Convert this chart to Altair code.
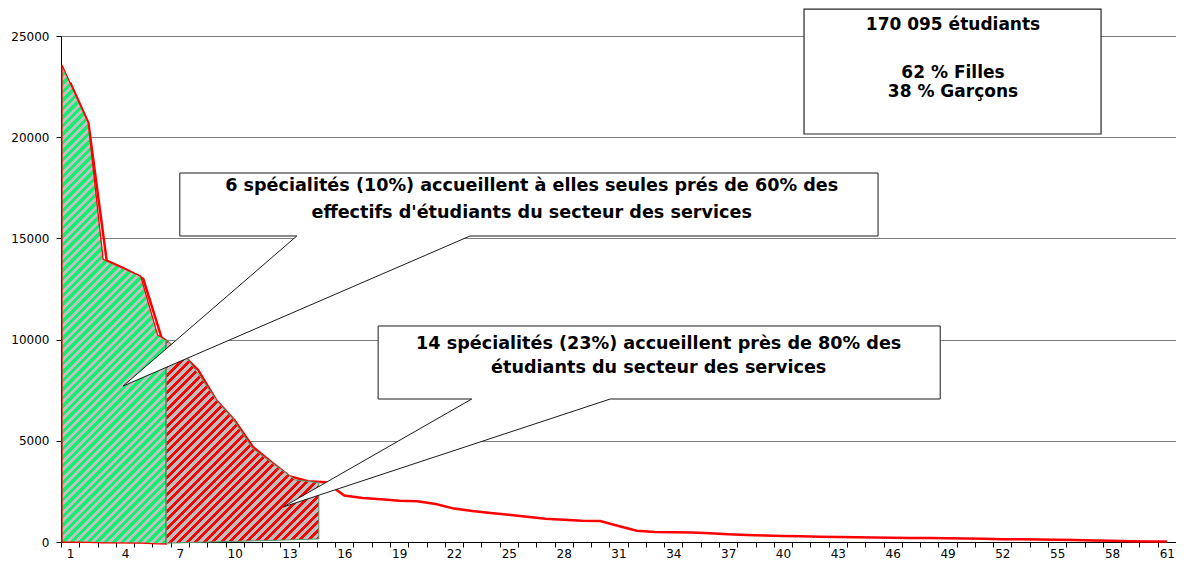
import altair as alt
import numpy as np
import pandas as pd

# ---------------- data ----------------
rang = list(range(1, 62))
effectifs = [22700, 20700, 13900, 13500, 13000, 10100, 9400, 8500, 7000, 6000,
             4700, 3950, 3250, 3000, 2950, 2300, 2170, 2110, 2040, 2010,
             1880, 1650, 1530, 1430, 1350, 1250, 1150, 1100, 1050, 1040,
             790, 560, 500, 480, 470, 430, 380, 345, 320, 300,
             290, 265, 250, 235, 222, 210, 200, 192, 185, 170,
             155, 140, 130, 120, 110, 100, 80, 60, 40, 30, 20]

# hand drawn hatched shapes (x in rank units, values in students)
green_x = [0.554, 1.987, 2.804, 4.857, 5.783, 6.257]
green_top = [23570, 20720, 13970, 13140, 10230, 9980]
green_base = [0, -20, -40, -60, -90, -100]

red_x = [6.257, 7.433, 8.250, 9.068, 9.885, 10.974, 12.063, 13.338, 14.607]
red_top = [9980, 9030, 8000, 6930, 6110, 4630, 3890, 3060, 2930]
red_base = [-60, -30, -10, 10, 30, 55, 80, 115, 150]

# callouts
callout_text_1 = ["6 spécialités (10%) accueillent à elles seules prés de 60% des",
                  "effectifs d'étudiants du secteur des services"]
callout_text_2 = ["14 spécialités (23%) accueillent près de 80% des",
                  "étudiants du secteur des services"]
info_text = ["170 095 étudiants", "62 % Filles", "38 % Garçons"]

box_x1 = [7.0, 17.85]
box_x2 = [45.2, 48.6]
box_top = [18231, 10672]
box_bottom = [15119, 7065]
wedge_left = [13.40, 22.97]
wedge_right = [22.88, 30.55]
wedge_tip_x = [3.9, 12.65]
wedge_tip_y = [7708, 1729]

info_box = [41.15, 57.4, 26329, 20158]   # x1, x2, top, bottom

callout1_text_x = 26.25
callout1_text_y = [17590, 16255]
callout2_text_x = 33.2
callout2_text_y = [9783, 8597]
info_text_x = 49.3
info_text_y = [25543, 23172, 22233]

# ---------------- geometry / style helpers ----------------
W, H = 1115, 506
XMIN, XMAX = 0.5, 61.5
YMAX = 25000
px_x = W / (XMAX - XMIN)
px_y = H / YMAX
FONT = "DejaVu Sans"

xs = alt.Scale(domain=[XMIN, XMAX], nice=False, zero=False)
ys = alt.Scale(domain=[0, YMAX], nice=False, zero=False)

GRAY = "#C0C0C0"


def stripes(color, xs_, tops, bases, period=8.5, frac=0.5):
    w = (max(xs_) - min(xs_)) * px_x
    h = (max(tops) - min(bases)) * px_y
    L = w + h
    k = L / (w * w + h * h)
    stops = []
    n = int(np.ceil(L / period))
    for j in range(n):
        a = min(j * period / L, 1.0)
        b = min((j + frac) * period / L, 1.0)
        c = min((j + 1) * period / L, 1.0)
        stops += [alt.GradientStop(color=color, offset=a),
                  alt.GradientStop(color=color, offset=b),
                  alt.GradientStop(color=GRAY, offset=b),
                  alt.GradientStop(color=GRAY, offset=c)]
    return alt.Gradient(gradient="linear", x1=0, y1=0, x2=k * w, y2=k * h, stops=stops)


# ---------------- axes (shared by every layer) ----------------
boundaries = [i + 0.5 for i in range(0, 62)]
x_axis = alt.Axis(values=boundaries, title=None, grid=False,
                  labelExpr="(datum.value - 0.5) % 3 == 0 ? format(datum.value + 0.5, 'd') : ''",
                  labelOffset=px_x / 2, labelFlush=False, labelOverlap=False,
                  labelFont=FONT, labelFontSize=12, labelColor="black",
                  domainColor="black", tickColor="black", tickSize=5, labelPadding=1)
y_axis = alt.Axis(values=[0, 5000, 10000, 15000, 20000, 25000], title=None, format="d",
                  grid=True, gridColor="#808080", gridWidth=1,
                  labelFont=FONT, labelFontSize=12, labelColor="black",
                  domainColor="black", tickColor="black", tickSize=5, labelPadding=7)


def X(field):
    return alt.X(field, scale=xs, axis=x_axis, title=None)


def Y(field, **kw):
    return alt.Y(field, scale=ys, axis=y_axis, title=None, **kw)


# ---------------- main line ----------------
df_line = pd.DataFrame({"rang": rang, "effectifs": effectifs})
line = alt.Chart(df_line).mark_line(color="#FF0000", strokeWidth=2.5).encode(
    x=X("rang:Q"), y=Y("effectifs:Q"),
)

# ---------------- hatched shapes ----------------
df_green = pd.DataFrame({"x": green_x, "top": green_top, "base": green_base})
df_red = pd.DataFrame({"x": red_x, "top": red_top, "base": red_base})

green_area = alt.Chart(df_green).mark_area(
    fill=stripes("#10F070", green_x, green_top, green_base),
    stroke="#FF0000", strokeWidth=1.3, orient="vertical", opacity=1
).encode(x=X("x:Q"), y=Y("top:Q", stack=None), y2="base:Q")

red_area = alt.Chart(df_red).mark_area(
    fill=stripes("#FF0000", red_x, red_top, red_base),
    stroke="#4E9E6E", strokeWidth=1, orient="vertical", opacity=1
).encode(x=X("x:Q"), y=Y("top:Q", stack=None), y2="base:Q")

# ---------------- callout boxes ----------------
df_boxes = pd.DataFrame({"x1": box_x1, "x2": box_x2, "top": box_top, "bottom": box_bottom})
boxes_fill = alt.Chart(df_boxes).mark_rect(fill="white", strokeWidth=0).encode(
    x=X("x1:Q"), x2="x2:Q", y=Y("top:Q"), y2="bottom:Q",
)

wedge_rows = []
seg_rows = []
for i in range(len(box_x1)):
    tx, ty = wedge_tip_x[i], wedge_tip_y[i]
    ax, bx, by = wedge_left[i], wedge_right[i], box_bottom[i]
    y_on_tb = ty + (by - ty) * (ax - tx) / (bx - tx)
    wedge_rows += [
        {"id": i, "x": tx, "y": ty, "y2": ty},
        {"id": i, "x": ax, "y": by, "y2": y_on_tb},
        {"id": i, "x": bx, "y": by, "y2": by},
    ]
    seg_rows += [
        {"x": box_x1[i], "x2": box_x2[i], "y": box_top[i], "y2": box_top[i]},
        {"x": box_x1[i], "x2": box_x1[i], "y": box_top[i], "y2": box_bottom[i]},
        {"x": box_x2[i], "x2": box_x2[i], "y": box_top[i], "y2": box_bottom[i]},
        {"x": box_x1[i], "x2": ax, "y": by, "y2": by},
        {"x": bx, "x2": box_x2[i], "y": by, "y2": by},
        {"x": tx, "x2": ax, "y": ty, "y2": by},
        {"x": tx, "x2": bx, "y": ty, "y2": by},
    ]
df_wedge = pd.DataFrame(wedge_rows)
df_seg = pd.DataFrame(seg_rows)

wedges = alt.Chart(df_wedge).mark_area(fill="white", orient="vertical", opacity=1).encode(
    x=X("x:Q"), y=Y("y:Q", stack=None), y2="y2:Q", detail="id:N",
)

segments = alt.Chart(df_seg).mark_rule(color="#1A1A1A", strokeWidth=1).encode(
    x=X("x:Q"), x2="x2:Q", y=Y("y:Q"), y2="y2:Q",
)

df_info = pd.DataFrame({"x1": [info_box[0]], "x2": [info_box[1]],
                        "top": [info_box[2]], "bottom": [info_box[3]]})
info_rect = alt.Chart(df_info).mark_rect(fill="white", stroke="#262626", strokeWidth=1.2).encode(
    x=X("x1:Q"), x2="x2:Q", y=Y("top:Q"), y2="bottom:Q",
)

df_text = pd.DataFrame({
    "txt": info_text + callout_text_1 + callout_text_2,
    "x": [info_text_x] * 3 + [callout1_text_x] * 2 + [callout2_text_x] * 2,
    "y": info_text_y + callout1_text_y + callout2_text_y,
    "fs": [17, 17, 17, 17.6, 17.6, 17.6, 17.6],
})
texts = alt.Chart(df_text).mark_text(font=FONT, fontWeight="bold", color="black",
                                     align="center", baseline="middle").encode(
    x=X("x:Q"), y=Y("y:Q"), text="txt:N",
    size=alt.Size("fs:Q", scale=None, legend=None),
)

chart = alt.layer(
    line, green_area, red_area, boxes_fill, wedges, segments, info_rect, texts
).properties(
    width=W, height=H,
    padding={"left": 53, "top": 28, "right": 0, "bottom": 18},
    autosize=alt.AutoSizeParams(type="none"),
    background="white",
).configure_view(stroke="#808080", strokeWidth=1)

chart.save("out.html", embed_options={"renderer": "svg", "actions": False})
